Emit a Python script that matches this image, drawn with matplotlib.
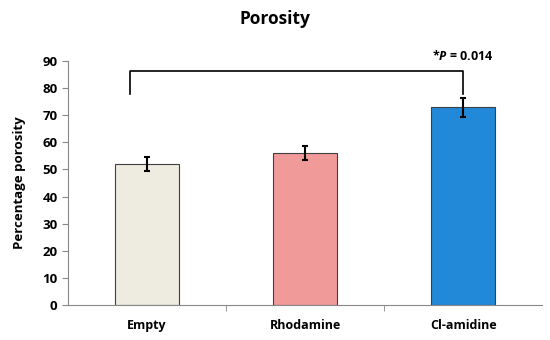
import matplotlib
matplotlib.use("Agg")
import matplotlib.pyplot as plt
import numpy as np

categories = ["Empty", "Rhodamine", "Cl-amidine"]
values = [52, 56, 73]
errors = [2.5, 2.7, 3.5]
colors = ["#EEEBE0", "#F09A9A", "#2288D8"]
yticks = list(range(0, 100, 10))

plt.rcParams['font.family'] = ['Open Sans', 'DejaVu Sans']
plt.rcParams['mathtext.fontset'] = 'custom'
plt.rcParams['mathtext.bfit'] = 'Open Sans:italic:bold'
plt.rcParams['mathtext.bf'] = 'Open Sans:bold'
plt.rcParams['mathtext.rm'] = 'Open Sans:bold'
fig = plt.figure(figsize=(5.5, 3.4), dpi=100)
ax = fig.add_axes([0.1236, 0.103, 0.862, 0.7176])
x = np.arange(len(categories))
ax.bar(x, values, width=0.4, color=colors, edgecolor="#404040", linewidth=0.8, zorder=2)
ax.errorbar(x, values, yerr=errors, fmt="none", ecolor="black", elinewidth=1.5, capsize=2.5, capthick=1.5, zorder=3)
ax.set_xlim(-0.5, 2.5)
ax.set_ylim(0, 90)
ax.set_yticks(yticks)
ax.set_xticks(x)
ax.set_xticklabels(categories, fontsize=9, fontweight="bold")
ax.tick_params(axis="x", which="major", length=0, pad=10)
ax.set_xticks([0.5, 1.5], minor=True)
ax.tick_params(axis="x", which="minor", length=4, direction="out", color="#888888")
ax.tick_params(axis="y", length=4, direction="out", color="#888888", labelsize=9.5)
for lab in ax.get_yticklabels():
    lab.set_fontweight("bold")
ax.spines["top"].set_visible(False)
ax.spines["right"].set_visible(False)
ax.spines["left"].set_color("#888888")
ax.spines["bottom"].set_color("#888888")
ax.set_ylabel("Percentage porosity", fontsize=9.5, fontweight="bold", labelpad=12)
fig.suptitle("Porosity", fontsize=12.5, fontweight="bold", x=0.5, y=0.97)

# significance bracket
ax.plot([-0.11, -0.11, 2.0, 2.0], [78, 86.3, 86.3, 78], color="black", linewidth=1.2, clip_on=False)
ax.text(2.0, 89.3, "*$\\mathbfit{P}$ = 0.014", ha="center", va="bottom", fontsize=9, fontweight="bold", clip_on=False)

fig.savefig("out.png", dpi=100)
